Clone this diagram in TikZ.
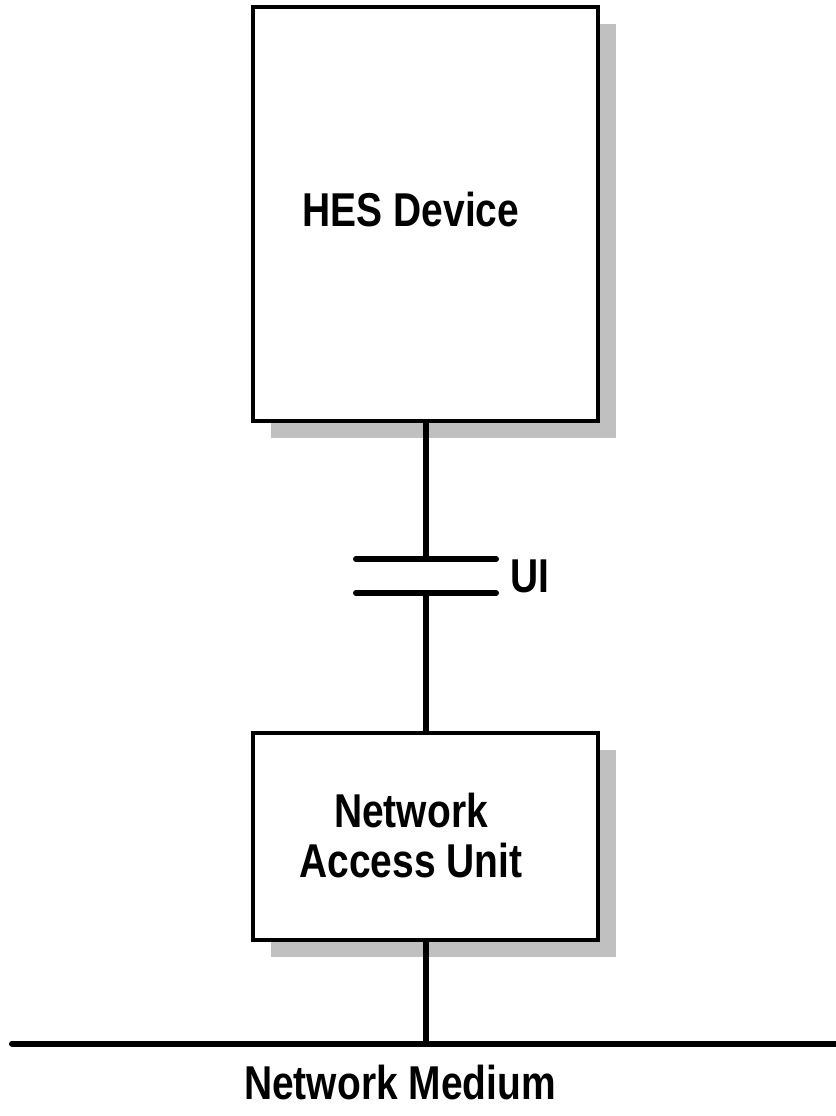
\documentclass[tikz,border=0pt]{standalone}
\usepackage{fontspec}
\setmainfont{Liberation Sans}[FakeStretch=0.82]
\usetikzlibrary{shadows}
\definecolor{shadowgray}{HTML}{C0C0C0}
\tikzset{
  box/.style={draw=black, line width=4.8pt, fill=white, inner sep=0pt,
    drop shadow={shadow xshift=18pt, shadow yshift=-17pt, fill=shadowgray, opacity=1}},
  lbl/.style={font=\fontsize{47.5}{50}\selectfont\bfseries, align=center, inner sep=0pt},
  wire/.style={line width=6pt},
  bar/.style={line width=6pt, line cap=round}
}
\begin{document}
\begin{tikzpicture}[x=1pt,y=-1pt]
\useasboundingbox (0,0) rectangle (835,1116);
% boxes
\node[box, minimum width=345pt, minimum height=414pt] (hes) at (425.5,214) {};
\node[lbl] (hest) at (411,210) {HES Device};
\node[box, minimum width=345pt, minimum height=207pt] (nau) at (425.5,836.5) {};
\node[lbl] (naut) at (411,836) {Network\\Access Unit};
% UI interface
\coordinate (uiA) at (356,559);
\coordinate (uiB) at (496,559);
\coordinate (uiC) at (356,593);
\coordinate (uiD) at (496,593);
\coordinate (uiTop) at (426,559);
\coordinate (uiBot) at (426,593);
\draw[bar] (uiA) -- (uiB);
\draw[bar] (uiC) -- (uiD);
\node[lbl] (uit) at (530,576) {UI};
% medium
\coordinate (mL) at (12,1043.5);
\coordinate (mR) at (845,1043.5);
\coordinate (mT) at (426,1043.5);
\draw[bar] (mL) -- (mR);
\node[lbl] (medt) at (400,1083) {Network Medium};
% connectors
\draw[wire] (hes.south -| uiTop) -- (uiTop);
\draw[wire] (uiBot) -- (nau.north -| uiBot);
\draw[wire] (nau.south -| mT) -- (mT);
\end{tikzpicture}
\end{document}
